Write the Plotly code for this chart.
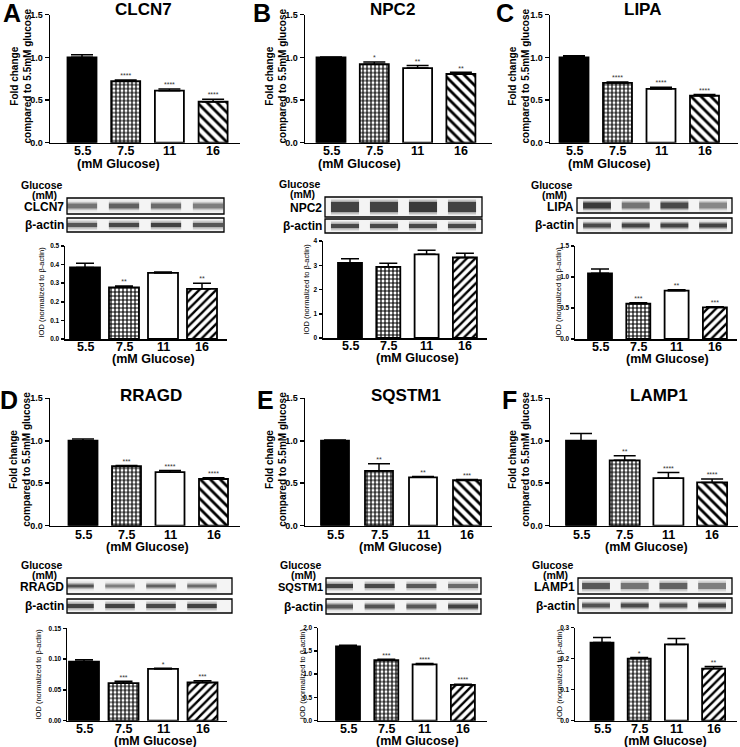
import plotly.graph_objects as go

W, H = 740, 747
FONT = "Liberation Sans, Arial, sans-serif"

# ---------------- data ----------------
categories = ["5.5", "7.5", "11", "16"]
x_title = "(mM Glucose)"
genes = ["CLCN7", "NPC2", "LIPA", "RRAGD", "SQSTM1", "LAMP1"]
panel_letters = ["A", "B", "C", "D", "E", "F"]

clcn7_fold = [1.00, 0.72, 0.61, 0.48]
clcn7_fold_err = [0.03, 0.015, 0.02, 0.03]
clcn7_fold_sig = ["", "****", "****", "****"]
clcn7_iod = [0.385, 0.278, 0.355, 0.270]
clcn7_iod_err = [0.022, 0.007, 0.005, 0.030]
clcn7_iod_sig = ["", "**", "", "**"]

npc2_fold = [1.00, 0.92, 0.875, 0.805]
npc2_fold_err = [0.005, 0.025, 0.03, 0.02]
npc2_fold_sig = ["", "*", "**", "**"]
npc2_iod = [3.10, 2.93, 3.45, 3.32]
npc2_iod_err = [0.17, 0.15, 0.17, 0.17]
npc2_iod_sig = ["", "", "", ""]

lipa_fold = [1.00, 0.70, 0.63, 0.55]
lipa_fold_err = [0.02, 0.01, 0.02, 0.015]
lipa_fold_sig = ["", "****", "****", "****"]
lipa_iod = [1.06, 0.57, 0.78, 0.51]
lipa_iod_err = [0.07, 0.015, 0.015, 0.01]
lipa_iod_sig = ["", "***", "**", "***"]

rragd_fold = [1.00, 0.70, 0.63, 0.55]
rragd_fold_err = [0.02, 0.01, 0.02, 0.015]
rragd_fold_sig = ["", "***", "****", "****"]
rragd_iod = [0.096, 0.061, 0.084, 0.062]
rragd_iod_err = [0.003, 0.003, 0.001, 0.003]
rragd_iod_sig = ["", "***", "*", "***"]

sqstm1_fold = [1.00, 0.645, 0.57, 0.535]
sqstm1_fold_err = [0.01, 0.085, 0.01, 0.01]
sqstm1_fold_sig = ["", "**", "**", "***"]
sqstm1_iod = [1.60, 1.30, 1.21, 0.77]
sqstm1_iod_err = [0.02, 0.02, 0.02, 0.015]
sqstm1_iod_sig = ["", "***", "****", "****"]

lamp1_fold = [1.00, 0.77, 0.56, 0.51]
lamp1_fold_err = [0.085, 0.055, 0.065, 0.04]
lamp1_fold_sig = ["", "**", "****", "****"]
lamp1_iod = [0.252, 0.200, 0.246, 0.168]
lamp1_iod_err = [0.016, 0.004, 0.019, 0.007]
lamp1_iod_sig = ["", "*", "", "**"]

fold_vals = [clcn7_fold, npc2_fold, lipa_fold, rragd_fold, sqstm1_fold, lamp1_fold]
fold_errs = [clcn7_fold_err, npc2_fold_err, lipa_fold_err, rragd_fold_err, sqstm1_fold_err, lamp1_fold_err]
fold_sigs = [clcn7_fold_sig, npc2_fold_sig, lipa_fold_sig, rragd_fold_sig, sqstm1_fold_sig, lamp1_fold_sig]
iod_vals = [clcn7_iod, npc2_iod, lipa_iod, rragd_iod, sqstm1_iod, lamp1_iod]
iod_errs = [clcn7_iod_err, npc2_iod_err, lipa_iod_err, rragd_iod_err, sqstm1_iod_err, lamp1_iod_err]
iod_sigs = [clcn7_iod_sig, npc2_iod_sig, lipa_iod_sig, rragd_iod_sig, sqstm1_iod_sig, lamp1_iod_sig]

iod_max = [0.5, 4, 1.5, 0.15, 2.0, 0.3]
iod_dtick = [0.1, 1, 0.5, 0.05, 0.5, 0.1]
iod_fmt = [".1f", "d", ".1f", ".2f", ".1f", ".1f"]

# western blot band intensities (0-1) per lane
blot_target = [[0.55, 0.65, 0.6, 0.5], [0.85, 0.85, 0.9, 0.85], [0.9, 0.55, 0.8, 0.45],
               [0.75, 0.5, 0.65, 0.6], [0.85, 0.8, 0.7, 0.6], [0.7, 0.55, 0.65, 0.5]]
blot_actin = [[0.7, 0.8, 0.85, 0.7], [0.8, 0.8, 0.8, 0.8], [0.8, 0.85, 0.85, 0.85],
              [0.85, 0.85, 0.8, 0.85], [0.7, 0.75, 0.7, 0.85], [0.75, 0.8, 0.75, 0.85]]

bar_colors = ["black", "white", "white", "white"]
top_patterns = ["", "+", "", "\\"]
bot_patterns = ["", "+", "", "/"]

# ---------------- geometry (pixels) ----------------
top_geom = [(50, 240, 82, 43.7, 14.7, 142.7, 29), (305, 492, 331, 43.3, 14.7, 142.7, 29),
            (550, 738, 574, 43.5, 14.7, 142.7, 29), (50, 240, 83, 43.5, 398.3, 525.7, 29),
            (305, 492, 335, 44.0, 398.3, 525.7, 28), (550, 738, 581, 43.7, 398.3, 525.7, 30)]
bot_geom = [(65, 227, 85, 39.0, 246, 339, 30), (323, 487, 350, 38.3, 241, 338, 24),
            (575, 737, 600, 38.3, 246, 339, 24), (67, 227, 84, 39.5, 628.3, 720.7, 30),
            (318, 487, 348, 38.3, 627.7, 720.7, 24), (575, 737, 602, 37.2, 627.7, 720.7, 23)]
blot_geom = [(67, 224, 82, 42.0, 198, 214, 218, 232, 5), (325, 482, 345, 39.0, 197, 217, 219, 233, 10),
             (577, 732, 597, 38.7, 198, 213, 218, 233, 6), (67, 232, 79, 41.0, 578, 594, 599, 613, 3),
             (326, 481, 338, 41.7, 578, 594, 599, 614, 4), (578, 732, 596, 38.7, 578, 594, 598, 613, 6)]
title_pos = [(143, 9), (392, 9), (642, 9), (151, 395), (406, 395), (659, 395)]
letter_pos = [(12, 13), (262, 13), (505, 13), (9, 400), (265, 400), (510, 400)]
ytitle_top_x = [21, 276, 519, 20, 276, 519]
ytitle_bot_x = [41, 306, 558, 38, 302, 559]
xtitle_top_x = [118, 359, 609, 147, 400, 646]
xtitle_bot_x = [153, 417, 667, 155, 417, 665]

fig = go.Figure()
layout_axes = {}
ann = []
shapes = []


def ax(i, k):
    return k if i == 1 else f"{k}{i}"


def lay(i, k):
    return f"{k}axis" if i == 1 else f"{k}axis{i}"


def bold(s):
    return dict(family=FONT, size=s, color="black", weight="bold")


def add_chart(i, geom, vals, errs, sigs, ymax, dtick, fmt, patterns, yfont, capw, stripe_size,
              lab_off, tlen):
    xs, xe, c0, sp, ytop, y0, bwpx = geom
    layout_axes[lay(i, "x")] = dict(
        domain=[xs / W, xe / W], range=[(xs - c0) / sp, (xe - c0) / sp], anchor=ax(i, "y"),
        showticklabels=False, showline=True, linecolor="black", linewidth=1.5, ticks="",
        showgrid=False, zeroline=False, fixedrange=True)
    layout_axes[lay(i, "y")] = dict(
        domain=[1 - y0 / H, 1 - ytop / H], range=[0, ymax], anchor=ax(i, "x"), dtick=dtick,
        tickformat=fmt, showline=True, linecolor="black", linewidth=1.5,
        ticks="outside", ticklen=tlen, tickwidth=1.5, tickcolor="black", showgrid=False,
        zeroline=False, tickfont=bold(yfont), fixedrange=True)
    for k in range(4):
        fig.add_trace(go.Bar(
            x=[k], y=[vals[k]], width=bwpx / sp, xaxis=ax(i, "x"), yaxis=ax(i, "y"),
            marker=dict(color=bar_colors[k], line=dict(color="black", width=1.8),
                        pattern=dict(shape=patterns[k], fgcolor="black", bgcolor="white",
                                     size=4 if patterns[k] == "+" else stripe_size,
                                     solidity=0.5 if patterns[k] == "+" else 0.4,
                                     fillmode="replace")),
            error_y=dict(type="data", array=[errs[k]], arrayminus=[0], symmetric=False,
                         color="black", thickness=1.5, width=capw),
            showlegend=False, hoverinfo="skip"))
        ann.append(dict(x=k, y=1 - (y0 + lab_off) / H, xref=ax(i, "x"), yref="paper", text=categories[k],
                        showarrow=False, font=bold(12.5), xanchor="center", yanchor="middle"))
    fig.add_trace(go.Scatter(
        x=[0, 1, 2, 3], y=[v + e for v, e in zip(vals, errs)], mode="text", text=sigs,
        textposition="top center", textfont=dict(family=FONT, size=7, color="#333"),
        xaxis=ax(i, "x"), yaxis=ax(i, "y"), showlegend=False, hoverinfo="skip", cliponaxis=False))


for p in range(6):
    # numbering: blots 1-6, top charts 7-12, bottom charts 13-18
    iblot = p + 1
    it = p + 7
    ib = p + 13
    add_chart(it, top_geom[p], fold_vals[p], fold_errs[p], fold_sigs[p], 1.5, 0.5, ".1f",
              top_patterns, 9, 11, 7, 8.8, 4)
    add_chart(ib, bot_geom[p], iod_vals[p], iod_errs[p], iod_sigs[p], iod_max[p], iod_dtick[p],
              iod_fmt[p], bot_patterns, 6.5, 9, 6, 8.3, 3)

    tg, bg, blg = top_geom[p], bot_geom[p], blot_geom[p]
    ann.append(dict(x=title_pos[p][0] / W, y=1 - title_pos[p][1] / H, xref="paper", yref="paper",
                    text=genes[p], showarrow=False, font=bold(17), xanchor="center", yanchor="middle"))
    ann.append(dict(x=letter_pos[p][0] / W, y=1 - letter_pos[p][1] / H, xref="paper", yref="paper",
                    text=panel_letters[p], showarrow=False, font=bold(25), xanchor="center", yanchor="middle"))
    ann.append(dict(x=ytitle_top_x[p] / W, y=1 - (tg[4] + tg[5]) / 2 / H + 0.003, xref="paper", yref="paper",
                    text="Fold change<br>compared to 5.5mM glucose", textangle=-90, showarrow=False,
                    font=bold(10), xanchor="center", yanchor="middle"))
    ann.append(dict(x=ytitle_bot_x[p] / W, y=1 - (bg[4] + bg[5]) / 2 / H, xref="paper", yref="paper",
                    text="IOD (normalized to β-actin)", textangle=-90, showarrow=False,
                    font=dict(family=FONT, size=7.5, color="black"), xanchor="center", yanchor="middle"))
    ann.append(dict(x=xtitle_top_x[p] / W, y=1 - (tg[5] + 21) / H, xref="paper", yref="paper",
                    text=x_title, showarrow=False, font=bold(12.5), xanchor="center", yanchor="middle"))
    ann.append(dict(x=xtitle_bot_x[p] / W, y=1 - (bg[5] + 20.2) / H, xref="paper", yref="paper",
                    text=x_title, showarrow=False, font=bold(12.5), xanchor="center", yanchor="middle"))

    bx0, bx1, lc0, lsp, a0, a1, b0, b1, thick = blg
    layout_axes[lay(iblot, "x")] = dict(domain=[bx0 / W, bx1 / W], range=[(bx0 - lc0) / lsp, (bx1 - lc0) / lsp],
                                        anchor=ax(iblot, "y"), showline=False, showticklabels=False,
                                        ticks="", showgrid=False, zeroline=False, fixedrange=True)
    layout_axes[lay(iblot, "y")] = dict(domain=[1 - b1 / H, 1 - a0 / H], range=[b1, a0],
                                        anchor=ax(iblot, "x"), showline=False, showticklabels=False,
                                        ticks="", showgrid=False, zeroline=False, fixedrange=True)
    for (y0b, y1b) in [(a0, a1), (b0, b1)]:
        shapes.append(dict(type="rect", xref="paper", yref="paper", x0=bx0 / W, x1=bx1 / W,
                           y0=1 - y1b / H, y1=1 - y0b / H, line=dict(color="black", width=1.3),
                           fillcolor="#f4f4f4", layer="below"))
    lab_y = (a0 - 9) if p < 3 else (a0 - 5)
    for li, c in enumerate(categories):
        ann.append(dict(x=li, y=lab_y, xref=ax(iblot, "x"), yref=ax(iblot, "y"), text=c, showarrow=False,
                        font=bold(9), xanchor="center", yanchor="middle"))
    ann.append(dict(x=(bx0 - 2) / W, y=1 - (a0 - 13) / H, xref="paper", yref="paper", text="Glucose",
                    showarrow=False, font=bold(10.5), xanchor="right", yanchor="middle"))
    ann.append(dict(x=(bx0 - 37) / W, y=1 - (a0 - 3.5) / H, xref="paper", yref="paper", text="(mM)",
                    showarrow=False, font=bold(10.5), xanchor="left", yanchor="middle"))
    ann.append(dict(x=(bx0 - 1) / W, y=1 - ((a0 + a1) / 2 + 1) / H, xref="paper", yref="paper", text=genes[p],
                    showarrow=False, font=bold(12 if p != 4 else 11), xanchor="right", yanchor="middle"))
    ann.append(dict(x=(bx0 - 1) / W, y=1 - ((b0 + b1) / 2) / H, xref="paper", yref="paper", text="β-actin",
                    showarrow=False, font=bold(12), xanchor="right", yanchor="middle"))
    for (y0b, y1b, ints, t) in [(a0, a1, blot_target[p], thick), (b0, b1, blot_actin[p], 4)]:
        yc = (y0b + y1b) / 2
        for li, inten in enumerate(ints):
            for extra, alpha in [(6, 0.12), (3, 0.3), (0, 0.85)]:
                fig.add_trace(go.Scatter(
                    x=[li - 0.36, li + 0.36], y=[yc, yc], mode="lines",
                    line=dict(color=f"rgba(25,25,25,{alpha * inten:.3f})", width=t + extra),
                    xaxis=ax(iblot, "x"), yaxis=ax(iblot, "y"), showlegend=False, hoverinfo="skip"))

fig.update_layout(
    template="none",
    width=W, height=H, margin=dict(l=0, r=0, t=0, b=0, pad=0, autoexpand=False),
    paper_bgcolor="white", plot_bgcolor="rgba(0,0,0,0)", font=dict(family=FONT, color="black"),
    barmode="overlay", annotations=ann, shapes=shapes, showlegend=False, **layout_axes)

fig.write_html("out.html", config={"displayModeBar": False, "staticPlot": True},
               post_script="document.body.style.margin='0';document.body.style.overflow='hidden';")
